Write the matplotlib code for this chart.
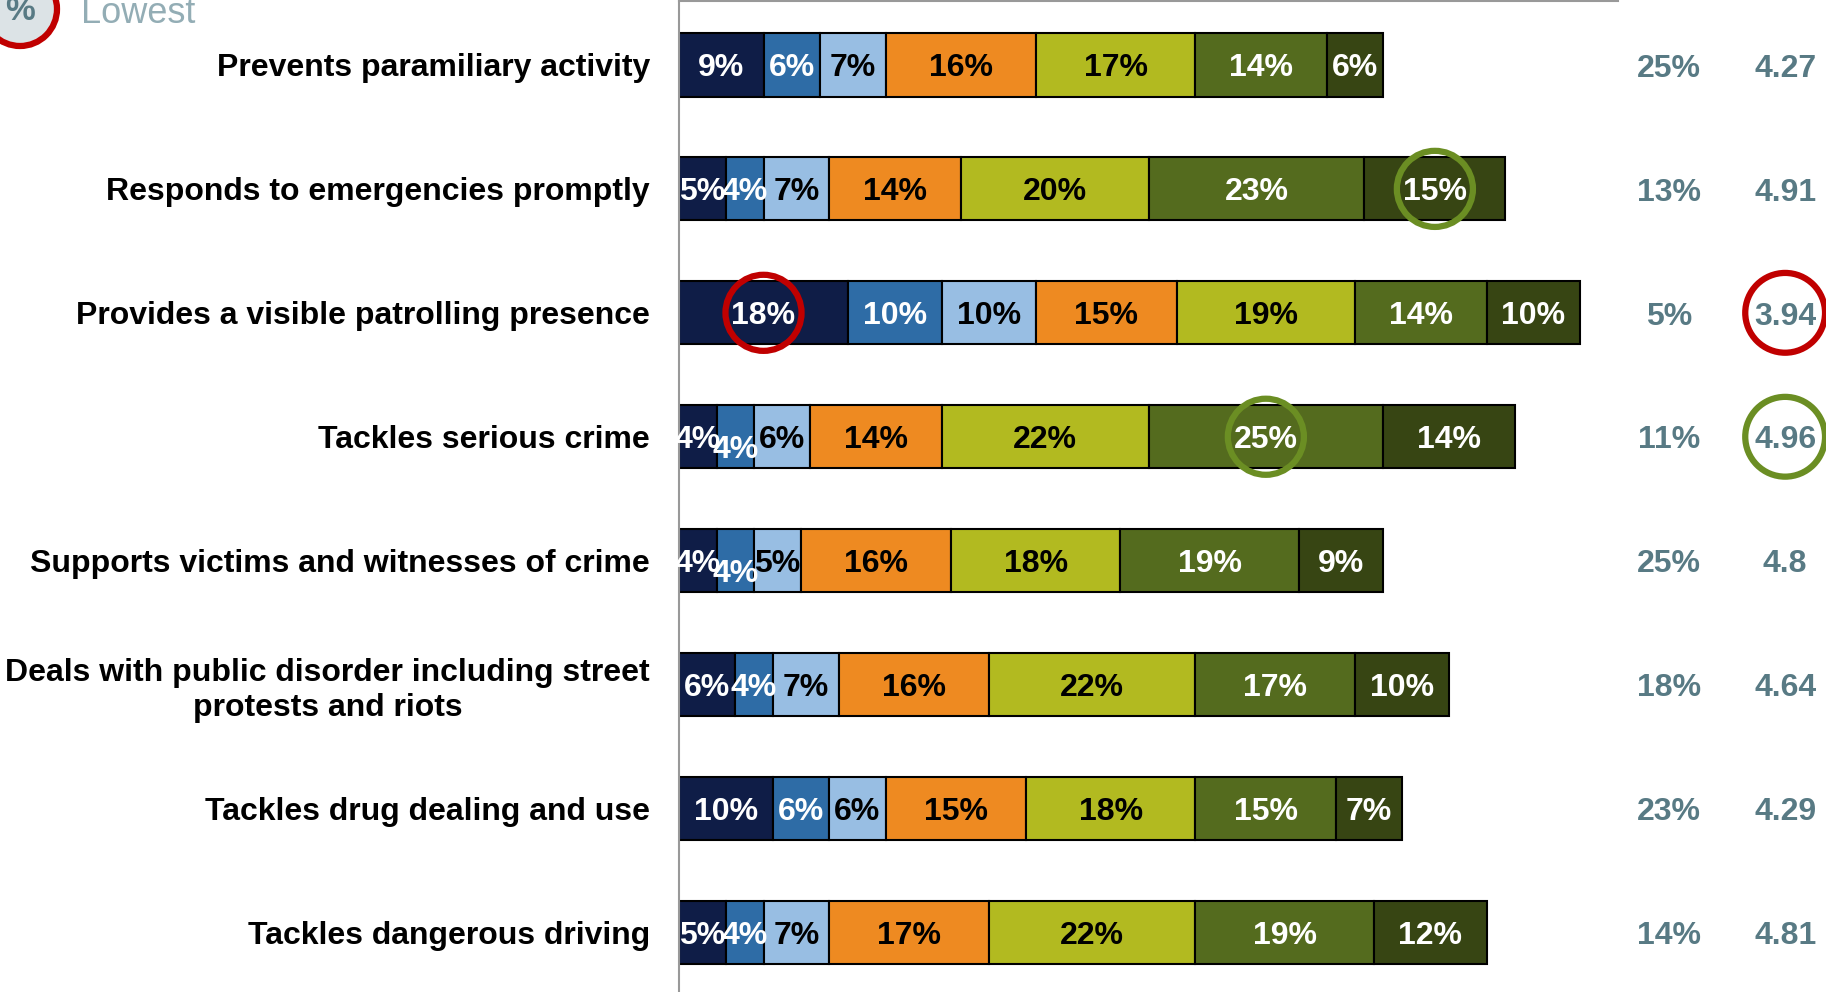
import numpy as np
import matplotlib
matplotlib.use("Agg")
import matplotlib.pyplot as plt
from matplotlib.patches import Circle

plt.rcParams['font.family'] = ['Liberation Sans', 'DejaVu Sans']

# ---- data ----
items = [
    "Prevents paramiliary activity",
    "Responds to emergencies promptly",
    "Provides a visible patrolling presence",
    "Tackles serious crime",
    "Supports victims and witnesses of crime",
    "Deals with public disorder including street\nprotests and riots",
    "Tackles drug dealing and use",
    "Tackles dangerous driving",
]
score_1 = [9, 5, 18, 4, 4, 6, 10, 5]
score_2 = [6, 4, 10, 4, 4, 4, 6, 4]
score_3 = [7, 7, 10, 6, 5, 7, 6, 7]
score_4 = [16, 14, 15, 14, 16, 16, 15, 17]
score_5 = [17, 20, 19, 22, 18, 22, 18, 22]
score_6 = [14, 23, 14, 25, 19, 17, 15, 19]
score_7 = [6, 15, 10, 14, 9, 10, 7, 12]
dont_know = [25, 13, 5, 11, 25, 18, 23, 14]
mean_score = [4.27, 4.91, 3.94, 4.96, 4.8, 4.64, 4.29, 4.81]

seg_colors = ["#0f1d47", "#2e6ca6", "#98bee3", "#ee8a21", "#b2ba20", "#546b1e", "#374513"]
text_colors = ["white", "white", "black", "black", "black", "white", "white"]
grey_txt = "#587a84"
red = "#c00000"
green = "#6b8e23"

W, H = 1826, 992
fig = plt.figure(figsize=(W / 100, H / 100), dpi=100)
ax = fig.add_axes([679 / W, 0.0, 939 / W, 0.999])

scores = np.array([score_1, score_2, score_3, score_4, score_5, score_6, score_7])
y = np.arange(len(items))
left = np.zeros(len(items))

# second small label drawn lower where Excel nudged it
nudge = {(1, 3): 0.08, (1, 4): 0.08}

for k in range(scores.shape[0]):
    vals = scores[k]
    ax.barh(y, vals, left=left, height=0.51, color=seg_colors[k],
            edgecolor="black", linewidth=1.5, zorder=2)
    for i, v in enumerate(vals):
        ax.text(left[i] + v / 2, y[i] + 0.025 + nudge.get((k, i), 0), f"{v}%",
                ha="center", va="center", color=text_colors[k],
                fontsize=23, fontweight="bold", zorder=4)
    left += vals

# highlight rings: worst "1" score, best "6" and "7" scores
starts = np.vstack([np.zeros(len(items)), np.cumsum(scores, axis=0)[:-1]])
for k, col in [(0, red), (5, green), (6, green)]:
    i = int(np.argmax(scores[k]))
    ax.scatter(starts[k, i] + scores[k, i] / 2, y[i], s=3000, facecolors="none",
               edgecolors=col, linewidths=4.5, zorder=5)

# right-hand columns
x_dk, x_mean = 105.4, 117.8
for i in range(len(items)):
    ax.text(x_dk, y[i] + 0.03, f"{dont_know[i]}%", ha="center", va="center",
            color=grey_txt, fontsize=23, fontweight="bold", clip_on=False)
    ax.text(x_mean, y[i] + 0.03, f"{mean_score[i]:g}", ha="center", va="center",
            color=grey_txt, fontsize=23, fontweight="bold", clip_on=False)
lo, hi = int(np.argmin(mean_score)), int(np.argmax(mean_score))
ax.scatter([x_mean], [y[lo]], s=3300, facecolors="none", edgecolors=red,
           linewidths=4.5, clip_on=False, zorder=5)
ax.scatter([x_mean], [y[hi]], s=3300, facecolors="none", edgecolors=green,
           linewidths=4.5, clip_on=False, zorder=5)

ax.set_xlim(0, 100)
ax.set_ylim(7.48, -0.516)
ax.set_yticks(y)
ax.set_yticklabels(items, fontsize=23, fontweight="bold", multialignment="center")
ax.tick_params(axis="y", length=0, pad=21)
ax.set_xticks([])
for s in ["right", "bottom"]:
    ax.spines[s].set_visible(False)
for s in ["left", "top"]:
    ax.spines[s].set_color("#999999")
    ax.spines[s].set_linewidth(1.5)

# partial legend at the top-left corner
ov = fig.add_axes([0, 0, 1, 1], zorder=-1)
ov.set_xlim(0, W)
ov.set_ylim(H, 0)
ov.axis("off")
ov.add_patch(Circle((20, 9), 37, facecolor="#dce3e6", edgecolor=red, linewidth=4.5))
ov.text(20, 12, "%", ha="center", va="center", fontsize=24, fontweight="bold", color=grey_txt)
ov.text(81, 23, "Lowest", ha="left", va="baseline", fontsize=26, color="#93adb5")

fig.savefig("out.png", dpi=100)
